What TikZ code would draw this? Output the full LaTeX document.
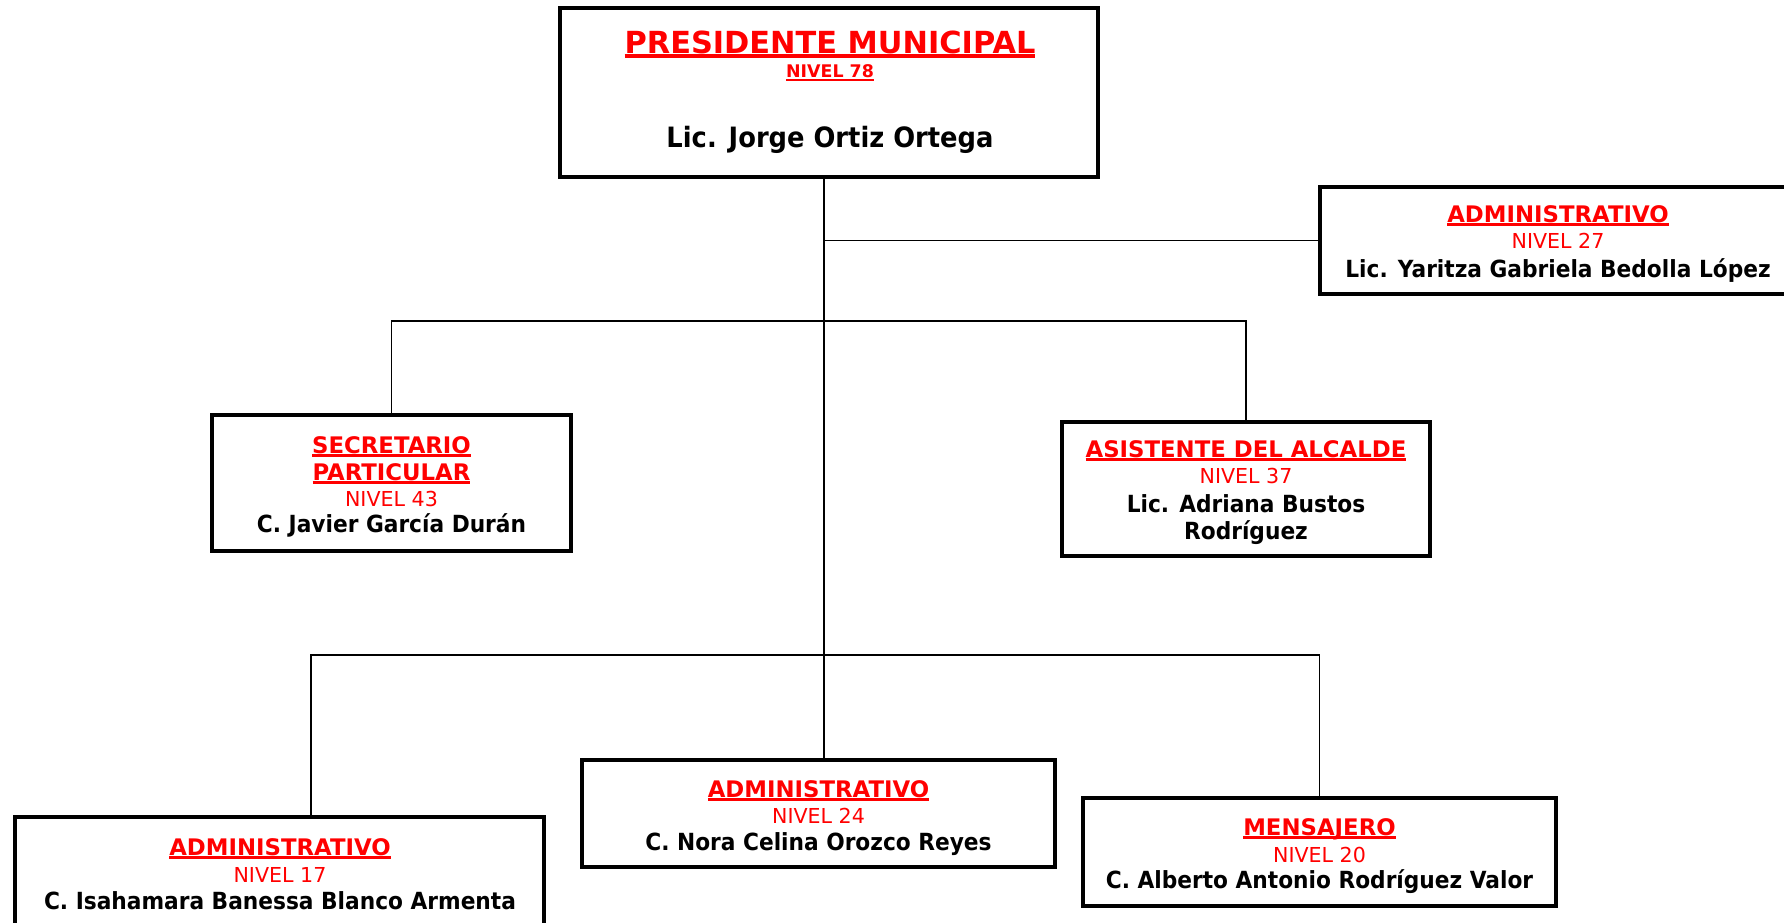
\documentclass[tikz,border=0pt]{standalone}
\usepackage{fontspec}
\setmainfont{DejaVu Sans}
\newfontfamily\namefont[FakeStretch=0.92]{DejaVu Sans}
\newcommand{\ulx}[3]{\setbox0=\hbox{#3}\rlap{\rule[-#1]{\wd0}{#2}}\box0}
\begin{document}
\begin{tikzpicture}[x=0.5pt,y=-0.5pt,
  box/.style={draw, line width=2pt, rectangle, inner sep=0pt},
  conn/.style={line width=0.9pt},
  role/.style={anchor=base, inner sep=0pt, text=red, font=\fontsize{11.4}{13}\selectfont\bfseries},
  lvl/.style={anchor=base, inner sep=0pt, text=red, font=\fontsize{10.3}{12}\selectfont},
  who/.style={anchor=base, inner sep=0pt, font=\namefont\fontsize{11.8}{13}\selectfont\bfseries}]
\useasboundingbox (0,0) rectangle (1784,922);
\clip (0,0) rectangle (1784,922);
\fill[white] (0,0) rectangle (1784,922);

% boxes
\node[box, minimum width=269pt, minimum height=84.5pt] (pres) at (829,92.5) {};
\node[box, minimum width=238pt, minimum height=53.5pt] (adm27) at (1558,240.5) {};
\node[box, minimum width=179.5pt, minimum height=68pt] (sec) at (391.5,483) {};
\node[box, minimum width=184pt, minimum height=67pt] (asis) at (1246,489) {};
\node[box, minimum width=264.5pt, minimum height=71.5pt] (adm17) at (279.5,888.5) {};
\node[box, minimum width=236.5pt, minimum height=53.5pt] (adm24) at (818.5,813.5) {};
\node[box, minimum width=236.5pt, minimum height=54pt] (mens) at (1319.5,852) {};

% texts
\node[anchor=base, inner sep=0pt, text=red, font=\fontsize{15.2}{17}\selectfont\bfseries] (t1) at (830,53) {\ulx{2.4pt}{1.8pt}{PRESIDENTE MUNICIPAL}};
\node[anchor=base, inner sep=0pt, text=red, font=\fontsize{8.7}{10}\selectfont\bfseries] (t2) at (830,77) {\ulx{2pt}{1.1pt}{NIVEL 78}};
\node[anchor=base, inner sep=0pt, font=\namefont\fontsize{14}{16}\selectfont\bfseries] (t3) at (830,147) {Lic. Jorge Ortiz Ortega};

\node[role] (r27) at (1558,222) {\ulx{2pt}{1.4pt}{ADMINISTRATIVO}};
\node[lvl] (l27) at (1558,248) {NIVEL 27};
\node[who] (n27) at (1558,277) {Lic. Yaritza Gabriela Bedolla López};

\node[role] (rsec1) at (391.5,453) {\ulx{2pt}{1.4pt}{SECRETARIO}};
\node[role] (rsec2) at (391.5,480) {\ulx{2pt}{1.4pt}{PARTICULAR}};
\node[lvl] (lsec) at (391.5,506) {NIVEL 43};
\node[who] (nsec) at (391.5,532) {C. Javier García Durán};

\node[role] (rasis) at (1246,457) {\ulx{2pt}{1.4pt}{ASISTENTE DEL ALCALDE}};
\node[lvl] (lasis) at (1246,483) {NIVEL 37};
\node[who] (nasis1) at (1246,512) {Lic. Adriana Bustos};
\node[who] (nasis2) at (1246,539) {Rodríguez};

\node[role] (r17) at (280,855) {\ulx{2pt}{1.4pt}{ADMINISTRATIVO}};
\node[lvl] (l17) at (280,882) {NIVEL 17};
\node[who] (n17) at (280,909) {C. Isahamara Banessa Blanco Armenta};

\node[role] (r24) at (818.5,797) {\ulx{2pt}{1.4pt}{ADMINISTRATIVO}};
\node[lvl] (l24) at (818.5,823) {NIVEL 24};
\node[who] (n24) at (818.5,850) {C. Nora Celina Orozco Reyes};

\node[role] (rmens) at (1319.5,835) {\ulx{2pt}{1.4pt}{MENSAJERO}};
\node[lvl] (lmens) at (1319.5,862) {NIVEL 20};
\node[who] (nmens) at (1319.5,888) {C. Alberto Antonio Rodríguez Valor};

% connectors
\coordinate (tx) at (824,0);
\coordinate (j1) at (824,321);
\coordinate (j2) at (824,655);
\coordinate (x17) at (311,0);
\draw[conn] (tx |- pres.south) -- (tx |- adm24.north);
\draw[conn] (tx |- adm27.west) -- (adm27.west);
\draw[conn] (sec.north) -- (sec.north |- j1) -- (asis.north |- j1) -- (asis.north);
\draw[conn] (x17 |- adm17.north) -- (x17 |- j2) -- (mens.north |- j2) -- (mens.north);
\end{tikzpicture}
\end{document}
